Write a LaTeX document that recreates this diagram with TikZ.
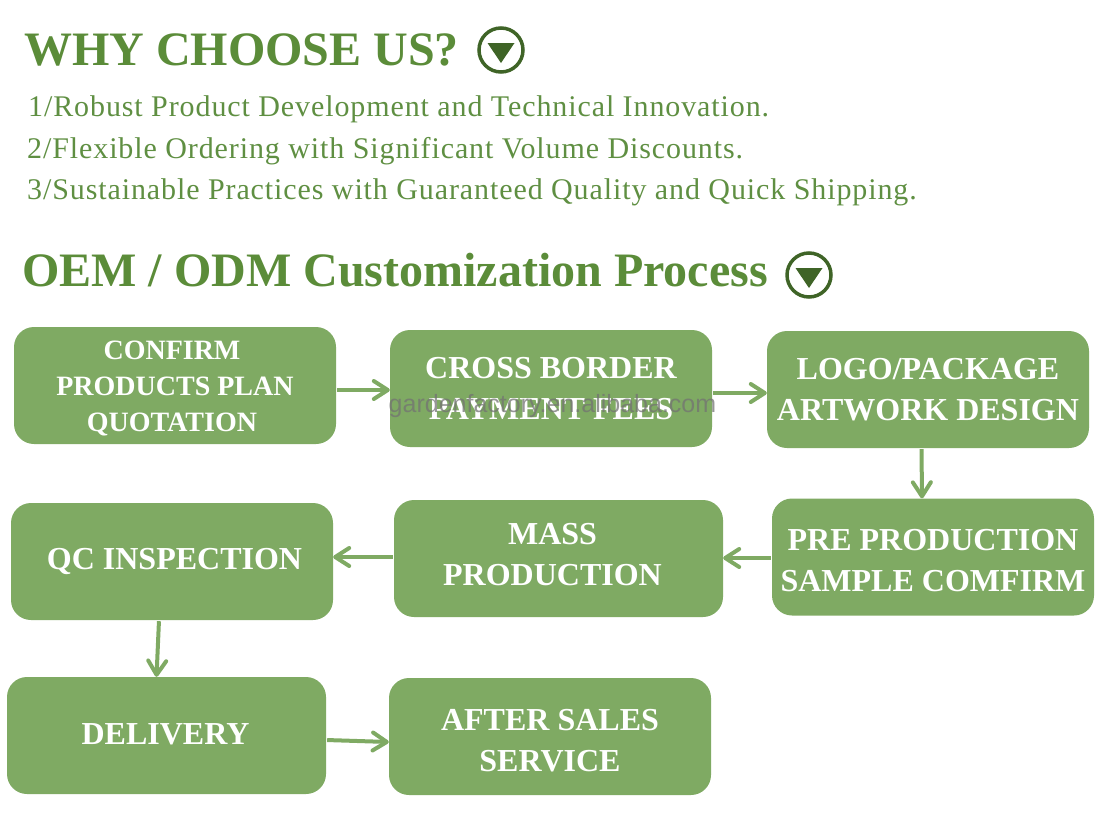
\documentclass[tikz,border=0pt]{standalone}
\usepackage{fontspec}
\setmainfont{Liberation Serif}
\newfontfamily\wmfont{Liberation Sans}
\newfontfamily\bodyfont[LetterSpace=3]{Liberation Serif}
\usepackage{tikz}
\usetikzlibrary{arrows.meta}
\definecolor{boxgreen}{HTML}{7FAA63}
\definecolor{headgreen}{HTML}{5B8C39}
\definecolor{bodygreen}{HTML}{5F8F42}
\definecolor{icongreen}{HTML}{3F6427}
\newcommand{\firstlift}[1]{\rule{0pt}{#1}}
\tikzset{
  headline/.style={anchor=base west,inner sep=0pt,text=headgreen,font=\fontsize{48}{48}\selectfont\bfseries},
  bodyline/.style={anchor=base west,inner sep=0pt,text=bodygreen,font=\bodyfont\fontsize{30}{30}\selectfont},
  stepbox/.style={fill=boxgreen,rounded corners=20pt,inner sep=0pt,align=center,text=white,
    minimum width=322pt,minimum height=117pt,font=\fontsize{32}{41}\selectfont\bfseries},
  textup/.style={execute at end node={\rule[-#1]{0pt}{#1}}},
  flow/.style={draw=boxgreen,line width=4pt,shorten <=1pt,-{Straight Barb[round,length=14pt,width=18pt,line width=4pt]}},
  downmark/.pic={
    \draw[icongreen,line width=3.5pt] (0,0) circle (22pt);
    \fill[icongreen] (-13.5,-7)--(13.5,-7)--(0,13)--cycle;
  }
}
\begin{document}
\begin{tikzpicture}[x=1pt,y=-1pt]
  \useasboundingbox (0,0) rectangle (1105,814);
  % headings and list
  \node[headline] (why) at (24,65) {WHY CHOOSE US?};
  \pic at (501,50) {downmark};
  \node[bodyline] (one) at (28,116) {1/Robust Product Development and Technical Innovation.};
  \node[bodyline] (two) at (27,158) {2/Flexible Ordering with Significant Volume Discounts.};
  \node[bodyline] (three) at (27,199) {3/Sustainable Practices with Guaranteed Quality and Quick Shipping.};
  \node[headline] (oem) at (22,286) {OEM / ODM Customization Process};
  \pic at (809,275) {downmark};
  % steps
  \node[stepbox,font=\fontsize{28}{36}\selectfont\bfseries] (confirm) at (175,385.5) {\firstlift{25pt}CONFIRM\hspace*{6pt}\\PRODUCTS PLAN\hspace*{11pt}\\QUOTATION\hspace*{6pt}};
  \node[stepbox] (cross) at (551,388.5) {CROSS BORDER\\PAYMENT FEES};
  \node[stepbox] (logo) at (928,389.5) {LOGO/PACKAGE\\ARTWORK DESIGN};
  \node[stepbox] (sample) at (933,557) {\firstlift{28pt}PRE PRODUCTION\\SAMPLE COMFIRM};
  \node[stepbox,textup=8.5pt,minimum width=329pt] (mass) at (558.5,558.5) {MASS\hspace*{12pt}\\PRODUCTION\hspace*{12pt}};
  \node[stepbox] (qc) at (172,561.5) {\hspace*{5pt}QC INSPECTION};
  \node[stepbox,textup=2.5pt,minimum width=319pt] (delivery) at (166.5,735.5) {DELIVERY\hspace*{2pt}};
  \node[stepbox] (after) at (550,736.5) {\firstlift{29pt}AFTER SALES\\SERVICE};
  % arrows
  \draw[flow] ([yshift=-4.5pt]confirm.east) -- ([yshift=-1.5pt]cross.west);
  \draw[flow] ([yshift=-4.5pt]cross.east) -- ([yshift=-3.5pt]logo.west);
  \draw[flow] ([xshift=-6.5pt]logo.south) -- ([xshift=-11pt]sample.north);
  \draw[flow] ([yshift=-1pt]sample.west) -- ([yshift=.5pt]mass.east);
  \draw[flow] ([yshift=1.5pt]mass.west) -- ([yshift=4.5pt]qc.east);
  \draw[flow] ([xshift=-13pt]qc.south) -- ([xshift=-10pt]delivery.north);
  \draw[flow] ([yshift=-4.5pt]delivery.east) -- ([yshift=-5.5pt]after.west);
  % watermark
  \node[inner sep=0pt,text=black!55,opacity=.75,font=\wmfont\fontsize{25}{26}\selectfont] (mark) at (552.5,406) {gardenfactory.en.alibaba.com};
\end{tikzpicture}
\end{document}
